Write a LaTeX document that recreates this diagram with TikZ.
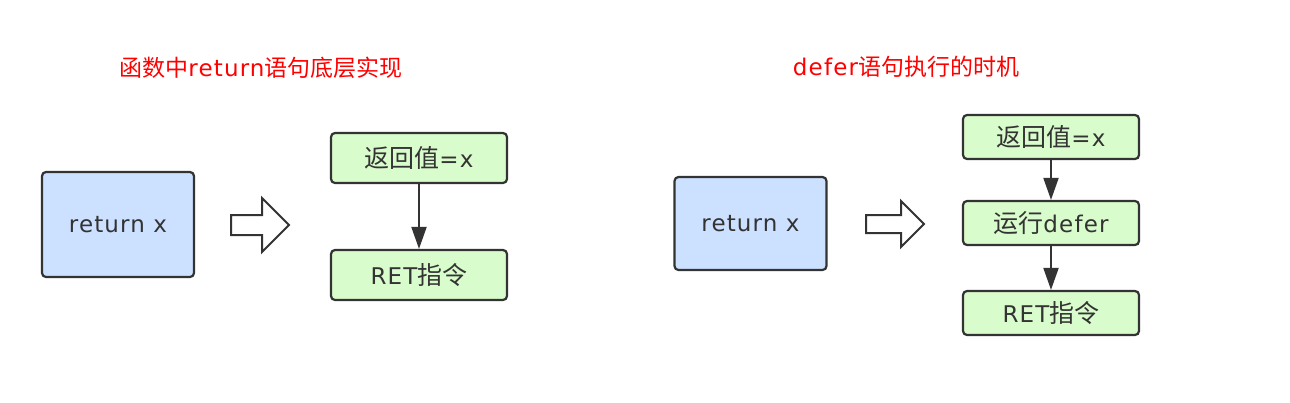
\documentclass[tikz,border=0pt]{standalone}
\usepackage{fontspec}
\setmainfont[LetterSpace=5]{DejaVu Sans}
\newfontfamily\zhfont{Noto Sans CJK SC}
\newcommand{\zh}[1]{{\zhfont #1}}
\usetikzlibrary{arrows.meta,positioning,shapes.arrows}
\definecolor{stmtblue}{HTML}{CCE0FF}
\definecolor{stepgreen}{HTML}{D9FCCC}
\definecolor{edgegray}{HTML}{333333}
\tikzset{
  stmt/.style={draw=edgegray, line width=2.2pt, rounded corners=4pt, fill=stmtblue, minimum width=152pt, font=\fontsize{23}{26}\selectfont, text=edgegray},
  stepbox/.style={draw=edgegray, line width=2.2pt, rounded corners=4pt, fill=stepgreen, minimum width=176pt, font=\fontsize{23}{26}\selectfont, text=edgegray},
  title/.style={text=red, font=\fontsize{23}{26}\selectfont},
  hollow/.style={single arrow, draw=edgegray, line width=2pt, fill=white, inner sep=0pt, anchor=tail, minimum height=58pt, single arrow head extend=17pt},
  flow/.style={-{Triangle[length=22pt, width=15pt]}, line width=2pt, draw=edgegray}
}
\begin{document}
\begin{tikzpicture}[x=1pt, y=-1pt]
  \useasboundingbox (0,0) rectangle (1290,402);
  % return statement
  \node[title] (t1) at (261,68) {\zh{函数中}return\zh{语句底层实现}};
  \node[stmt, minimum height=105pt] (r1) at (118,224.5) {return x};
  \node[hollow, inner ysep=9pt] (h1) at (230,225) {};
  \node[stepbox, minimum height=50pt] (a1) at (419,158) {{\fontsize{25}{26}\zhfont 返回值}=x};
  \node[stepbox, minimum height=50pt] (b1) at (419,275) {RET{\fontsize{25}{26}\zhfont 指令}};

  \draw[flow] (a1) -- (b1);

  % defer timing
  \node[title] (t2) at (906,67) {defer\zh{语句执行的时机}};
  \node[stmt, minimum height=93pt] (r2) at (750.5,223.5) {return x};
  \node[hollow, inner ysep=8pt, single arrow head extend=14pt] (h2) at (865,224) {};
  \node[stepbox, minimum height=44pt] (a2) at (1051,137) {{\fontsize{25}{26}\zhfont 返回值}=x};
  \node[stepbox, minimum height=44pt] (b2) at (1051,223) {{\fontsize{25}{26}\zhfont 运行}defer};
  \node[stepbox, minimum height=44pt] (c2) at (1051,313) {RET{\fontsize{25}{26}\zhfont 指令}};

  \draw[flow] (a2) -- (b2);
  \draw[flow] (b2) -- (c2);
\end{tikzpicture}
\end{document}
